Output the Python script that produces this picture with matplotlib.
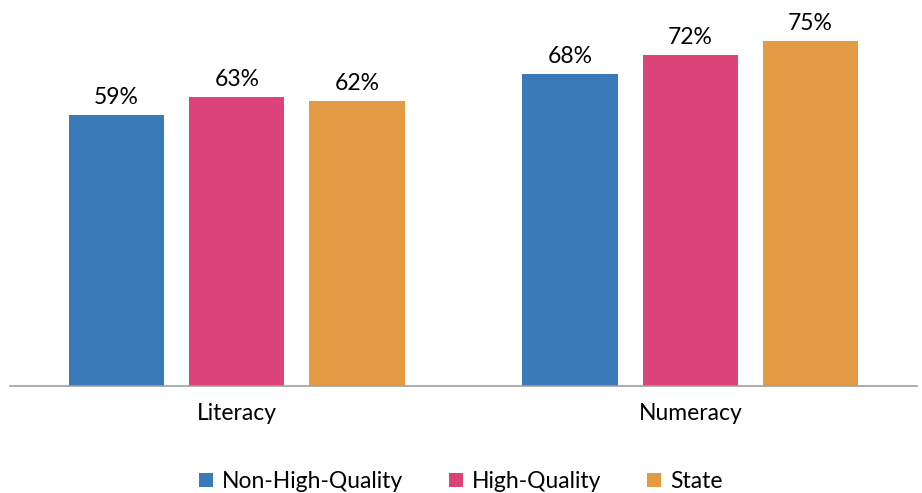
import matplotlib.pyplot as plt
import numpy as np

plt.rcParams['font.family'] = ['Lato', 'DejaVu Sans']

categories = ["Literacy", "Numeracy"]
series = ["Non-High-Quality", "High-Quality", "State"]
non_hq = [59, 68]
hq = [63, 72]
state = [62, 75]
colors = ["#3A7AB8", "#DC4479", "#E39A43"]

fig = plt.figure(figsize=(9.22, 4.93), dpi=100)
ax = fig.add_axes([10/922, 107/493, 907/922, 386/493])

x = np.arange(len(categories))
width = 0.21
step = 0.265
for i, (vals, name) in enumerate(zip([non_hq, hq, state], series)):
    bars = ax.bar(x + (i - 1) * step, vals, width, color=colors[i], label=name)
    for b, v in zip(bars, vals):
        ax.annotate(f"{v}%", (b.get_x() + b.get_width() / 2, v),
                    xytext=(0, 5), textcoords="offset points",
                    ha="center", va="bottom", fontsize=16.5)

ax.set_xlim(-0.5, 1.5)
ax.set_ylim(0, 84)
ax.set_xticks(x)
ax.set_xticklabels(categories, fontsize=16.5)
ax.tick_params(axis="x", length=0, pad=12)
ax.set_yticks([])
for s in ["top", "left", "right"]:
    ax.spines[s].set_visible(False)
ax.spines["bottom"].set_color("#A0A0A0")
ax.spines["bottom"].set_linewidth(1.2)

fig.legend(loc="lower center", bbox_to_anchor=(0.5, -0.04), ncol=3, frameon=False,
           fontsize=16.5, handlelength=0.6, handleheight=0.6, handletextpad=0.4,
           columnspacing=2.0)

fig.savefig("out.png")
